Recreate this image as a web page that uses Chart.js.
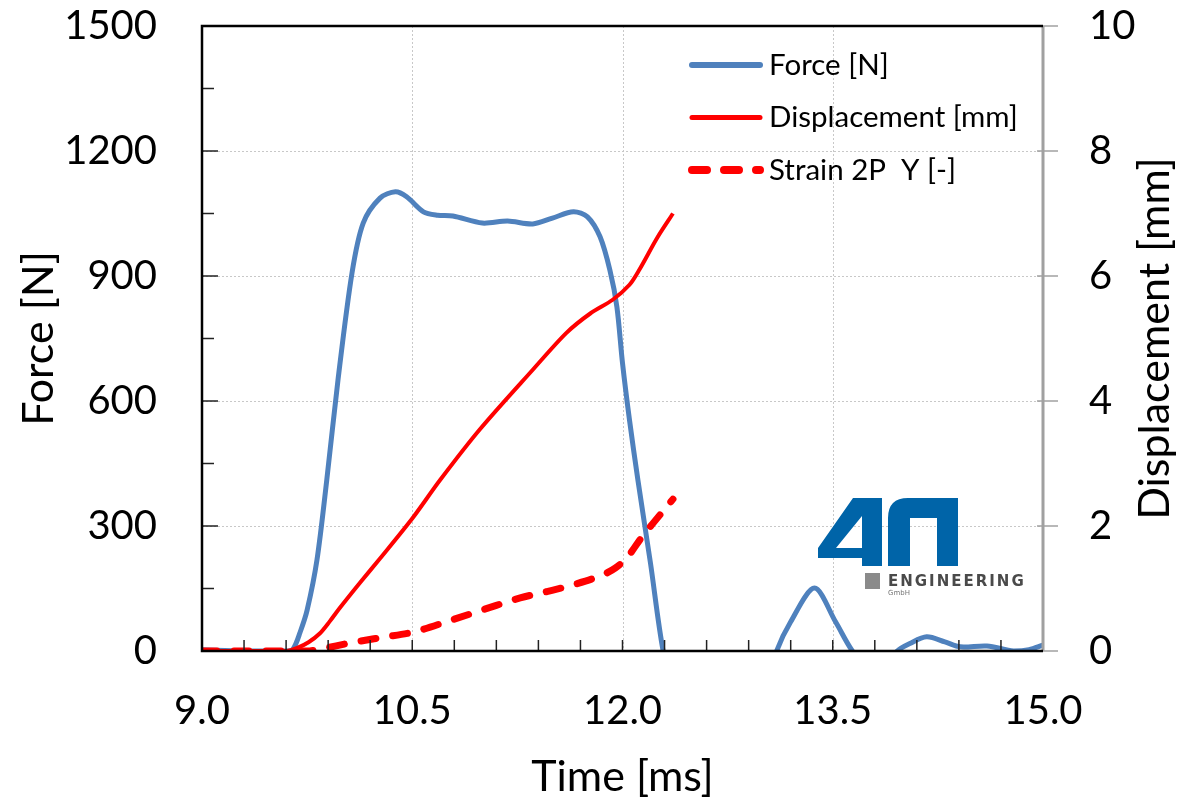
<!DOCTYPE html>
<html lang="en">
<head>
    <meta charset="utf-8">
    <title>Force / Displacement / Strain</title>
    <script src="https://cdn.jsdelivr.net/npm/chart.js@4"></script>
    <style>
        html, body { margin: 0; padding: 0; background: #fff; }
        #wrap { width: 1195px; height: 799px; }
    </style>
</head>
<body>
<div id="wrap"><canvas id="chart"></canvas></div>
<script>
    // values
    const forceTime = [9.0, 9.3, 9.6, 9.65, 9.7, 9.75, 9.82, 9.89, 9.97, 10.07, 10.15, 10.27, 10.38, 10.46,
        10.58, 10.68, 10.79, 11.0, 11.18, 11.36, 11.5, 11.65, 11.75, 11.84, 11.91, 11.96, 12.0, 12.05,
        12.11, 12.2, 12.29, 12.4, 12.7, 13.0, 13.1, 13.2, 13.37, 13.52, 13.64, 13.8, 13.96, 14.05, 14.17,
        14.3, 14.41, 14.6, 14.79, 14.9, 15.0];
    const forceValues = [3, 0, 0, 5, 45, 98, 218, 410, 650, 907, 1027, 1087, 1102, 1090,
        1054, 1046, 1044, 1027, 1032, 1025, 1039, 1054, 1042, 994, 914, 826, 691, 554,
        410, 210, 0, -150, -250, -110, 0, 70, 151, 70, 0, -60, 0, 18, 34,
        22, 10, 12, 0, 3, 14];

    const dispTime = [9.0, 9.6, 9.68, 9.76, 9.84, 9.91, 9.98, 10.13, 10.27, 10.5, 10.7, 10.98, 11.36,
        11.6, 11.77, 11.93, 12.05, 12.12, 12.25, 12.36];
    const dispValues = [0, 0, 0.05, 0.14, 0.28, 0.47, 0.68, 1.1, 1.48, 2.12, 2.74, 3.54, 4.5,
        5.09, 5.4, 5.62, 5.86, 6.1, 6.62, 7.0];

    const strainTime = [9.0, 9.75, 9.82, 10.06, 10.29, 10.5, 10.8, 11.1, 11.27, 11.46, 11.65, 11.86,
        11.95, 12.03, 12.15, 12.22, 12.36];
    const strainValues = [0, 0, 0.02, 0.13, 0.22, 0.3, 0.51, 0.73, 0.85, 0.95, 1.06, 1.22,
        1.33, 1.49, 1.86, 2.05, 2.43];

    const seriesLabels = ['Force [N]', 'Displacement [mm]', 'Strain 2P  Y [-]'];
    const forceColor = '#4f81bd';
    const redColor = '#ff0000';
    const strainDash = [15, 17];

    const FONT = 'Lato, "Noto Sans", sans-serif';
    Chart.defaults.font.family = FONT;
    Chart.defaults.color = '#000';

    function pts(xs, ys) {
        return xs.map((t, i) => ({ x: t, y: ys[i] }));
    }

    // fixed axis boxes so the plot area sits where the reference has it
    function fixBox(size) {
        return function (s) {
            if (s.isHorizontal()) {
                s.height = size;
                s.paddingLeft = 0;
                s.paddingRight = 0;
            } else {
                s.width = size;
                s.paddingTop = 0;
                s.paddingBottom = 0;
            }
        };
    }

    // grid, axis frame, inside ticks, legend, logo
    const framePlugin = {
        id: 'frame',
        beforeDatasetsDraw(chart) {
            const { ctx, chartArea: a, scales: { x, y } } = chart;
            ctx.save();
            ctx.strokeStyle = '#c8c8c8';
            ctx.lineWidth = 1;
            ctx.setLineDash([2, 2]);
            x.ticks.forEach(t => {
                if (t.value <= x.min || t.value >= x.max) return;
                const px = Math.round(x.getPixelForValue(t.value)) + 0.5;
                ctx.beginPath(); ctx.moveTo(px, a.top); ctx.lineTo(px, a.bottom); ctx.stroke();
            });
            y.ticks.forEach(t => {
                if (t.value <= y.min || t.value >= y.max) return;
                const py = Math.round(y.getPixelForValue(t.value)) + 0.5;
                ctx.beginPath(); ctx.moveTo(a.left, py); ctx.lineTo(a.right, py); ctx.stroke();
            });
            ctx.restore();
            drawLogo(ctx, a);
        },
        afterDatasetsDraw(chart) {
            const { ctx, chartArea: a, scales: { x, y, y1 } } = chart;
            ctx.save();
            // minor / major ticks, inside
            ctx.strokeStyle = '#222';
            ctx.lineWidth = 1.5;
            for (let i = 1; i < 20; i++) {
                const px = x.getPixelForValue(x.min + 0.3 * i);
                ctx.beginPath(); ctx.moveTo(px, a.bottom); ctx.lineTo(px, a.bottom - 11); ctx.stroke();
            }
            for (let i = 1; i < 10; i++) {
                const py = y.getPixelForValue(150 * i);
                const len = i % 2 === 0 ? 16 : 12;
                ctx.beginPath(); ctx.moveTo(a.left, py); ctx.lineTo(a.left + len, py); ctx.stroke();
            }
            ctx.strokeStyle = '#a0a0a0';
            y1.ticks.forEach(t => {
                const py = y1.getPixelForValue(t.value);
                ctx.beginPath(); ctx.moveTo(a.right - 6, py); ctx.lineTo(a.right + 15, py); ctx.stroke();
            });
            // frame
            ctx.lineWidth = 3;
            ctx.strokeStyle = '#a0a0a0';
            ctx.beginPath(); ctx.moveTo(a.right, a.top); ctx.lineTo(a.right, a.bottom); ctx.stroke();
            ctx.strokeStyle = '#000';
            ctx.lineWidth = 2.5;
            ctx.beginPath();
            ctx.moveTo(a.right, a.top); ctx.lineTo(a.left, a.top);
            ctx.lineTo(a.left, a.bottom); ctx.lineTo(a.right, a.bottom);
            ctx.stroke();

            // right axis title, reads bottom to top
            ctx.save();
            ctx.translate(chart.width - 40, (a.top + a.bottom) / 2);
            ctx.rotate(-Math.PI / 2);
            ctx.font = '43px ' + FONT;
            ctx.fillStyle = '#000';
            ctx.textAlign = 'center';
            ctx.textBaseline = 'middle';
            ctx.fillText('Displacement [mm]', 0, 0);
            ctx.restore();

            // legend
            const lx = a.right - 351;
            const ly = a.top + 39;
            const rowH = 52.5;
            ctx.lineCap = 'round';
            ctx.font = '29.5px ' + FONT;
            ctx.textBaseline = 'middle';
            ctx.textAlign = 'left';
            ctx.fillStyle = '#000';
            chart.data.datasets.forEach((ds, i) => {
                const yy = ly + rowH * i;
                ctx.strokeStyle = ds.borderColor;
                ctx.lineWidth = ds.borderWidth + 1;
                ctx.setLineDash(ds.borderDash || []);
                ctx.beginPath(); ctx.moveTo(lx, yy); ctx.lineTo(lx + 68, yy); ctx.stroke();
                ctx.setLineDash([]);
                ctx.fillText(ds.label, lx + 77, yy);
            });
            ctx.restore();
        }
    };

    function drawLogo(ctx, a) {
        const ox = a.right - 225;
        const oy = a.bottom - 153;
        ctx.save();
        ctx.translate(ox, oy);
        ctx.fillStyle = '#0064a8';
        // "4"
        ctx.beginPath();
        ctx.moveTo(35, 0); ctx.lineTo(64, 0); ctx.lineTo(64, 68); ctx.lineTo(44, 68);
        ctx.lineTo(44, 60); ctx.lineTo(0, 60); ctx.lineTo(0, 50); ctx.closePath();
        ctx.moveTo(18, 50); ctx.lineTo(44, 50); ctx.lineTo(44, 18); ctx.closePath();
        ctx.fill('evenodd');
        // "a"
        ctx.beginPath();
        ctx.moveTo(90, 0); ctx.lineTo(140, 0); ctx.lineTo(140, 68); ctx.lineTo(70, 68);
        ctx.lineTo(70, 20); ctx.quadraticCurveTo(70, 0, 90, 0); ctx.closePath();
        ctx.moveTo(92, 20); ctx.lineTo(119, 20); ctx.lineTo(119, 68); ctx.lineTo(92, 68); ctx.closePath();
        ctx.fill('evenodd');
        // grey square + wordmark
        ctx.fillStyle = '#8a8a8a';
        ctx.fillRect(47, 75, 15, 16);
        ctx.fillStyle = '#4a4a4a';
        ctx.font = 'bold 15px "DejaVu Sans", sans-serif';
        ctx.letterSpacing = '2px';
        ctx.textBaseline = 'alphabetic';
        ctx.fillText('ENGINEERING', 70, 88);
        ctx.letterSpacing = '0px';
        ctx.font = '7px "DejaVu Sans", sans-serif';
        ctx.fillStyle = '#777';
        ctx.fillText('GmbH', 70, 97);
        ctx.restore();
    }

    new Chart(document.getElementById('chart'), {
        type: 'line',
        data: {
            datasets: [{
                label: seriesLabels[0],
                data: pts(forceTime, forceValues),
                yAxisID: 'y',
                borderColor: forceColor,
                borderWidth: 5,
                tension: 0.3,
                pointRadius: 0,
                order: 3
            }, {
                label: seriesLabels[1],
                data: pts(dispTime, dispValues),
                yAxisID: 'y1',
                borderColor: redColor,
                borderWidth: 4,
                tension: 0.3,
                pointRadius: 0,
                order: 2
            }, {
                label: seriesLabels[2],
                data: pts(strainTime, strainValues),
                yAxisID: 'y1',
                borderColor: redColor,
                borderWidth: 7,
                borderDash: strainDash,
                borderCapStyle: 'round',
                cubicInterpolationMode: 'monotone',
                pointRadius: 0,
                order: 1
            }]
        },
        options: {
            responsive: true,
            maintainAspectRatio: false,
            animation: false,
            layout: { padding: { top: 26, left: 0, right: 0, bottom: 0 } },
            plugins: {
                legend: { display: false },
                tooltip: { enabled: false }
            },
            scales: {
                x: {
                    type: 'linear',
                    min: 9,
                    max: 15,
                    grid: { display: false, drawTicks: false, tickLength: 0 },
                    border: { display: false },
                    ticks: {
                        stepSize: 1.5,
                        padding: 36,
                        maxRotation: 0,
                        autoSkip: false,
                        font: { size: 40 },
                        callback: v => v.toFixed(1)
                    },
                    title: {
                        display: true,
                        text: 'Time [ms]',
                        font: { size: 43, lineHeight: 1 },
                        padding: { top: 0, bottom: 0 }
                    },
                    afterFit: fixBox(148)
                },
                y: {
                    position: 'left',
                    min: 0,
                    max: 1500,
                    grid: { display: false, drawTicks: false, tickLength: 0 },
                    border: { display: false },
                    ticks: { stepSize: 300, padding: 45, font: { size: 40 }, callback: v => String(v) },
                    title: {
                        display: true,
                        text: 'Force [N]',
                        font: { size: 43, lineHeight: 1 },
                        padding: { top: 18, bottom: 0 }
                    },
                    afterFit: fixBox(202)
                },
                y1: {
                    position: 'right',
                    min: 0,
                    max: 10,
                    grid: { display: false, drawTicks: false, tickLength: 0 },
                    border: { display: false },
                    ticks: { stepSize: 2, padding: 46, font: { size: 40 }, callback: v => String(v) },
                    afterFit: fixBox(152)
                }
            }
        },
        plugins: [framePlugin]
    });
</script>
</body>
</html>
